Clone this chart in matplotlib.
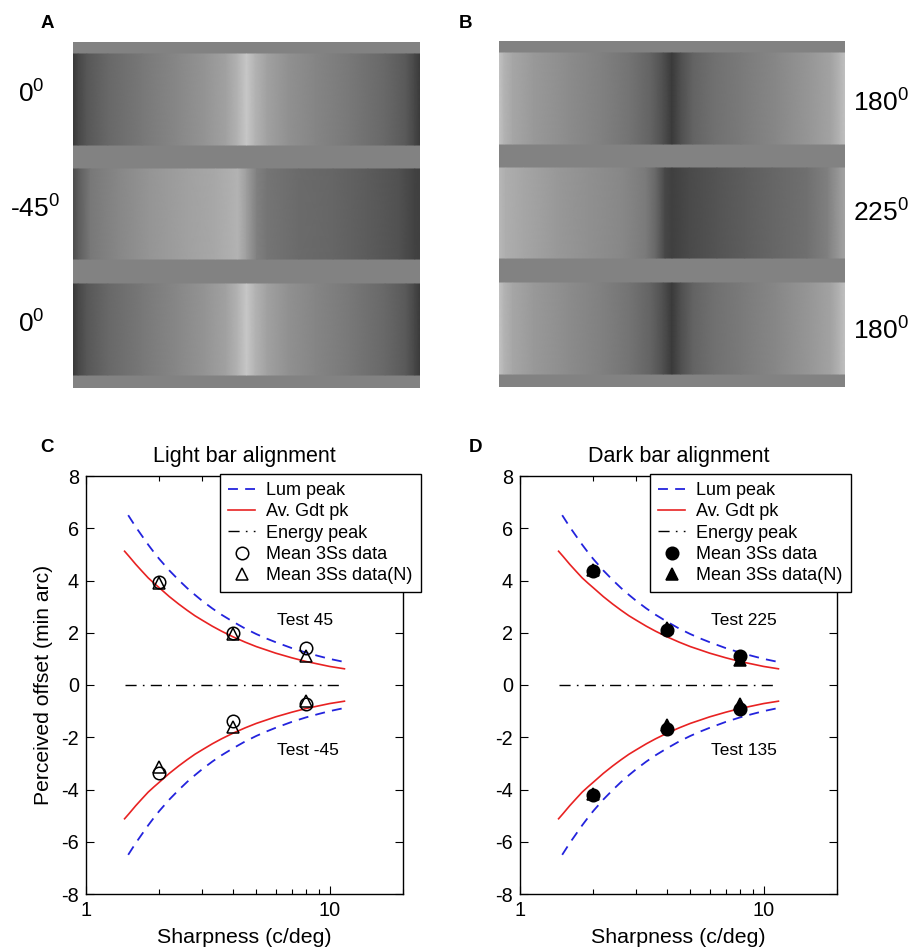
import numpy as np
import matplotlib
matplotlib.use("Agg")
import matplotlib.pyplot as plt
from matplotlib.ticker import NullFormatter, FixedLocator, FixedFormatter

plt.rcParams['font.family'] = ['Liberation Sans', 'DejaVu Sans']
plt.rcParams['mathtext.fontset'] = 'custom'
plt.rcParams['mathtext.rm'] = 'Liberation Sans'
plt.rcParams['mathtext.it'] = 'Liberation Sans:italic'
plt.rcParams['axes.unicode_minus'] = False

W, H = 916, 950

# ---- stimulus luminance profiles (fraction across width -> grey level) ----
pos_light0 = [0, 0.015, 0.04, 0.1, 0.2, 0.3, 0.38, 0.44, 0.475, 0.5, 0.525, 0.56, 0.62, 0.7, 0.8, 0.9, 0.96, 0.985, 1]
lum_light0 = [0.22, 0.28, 0.34, 0.41, 0.47, 0.53, 0.58, 0.63, 0.7, 0.78, 0.7, 0.63, 0.57, 0.52, 0.47, 0.41, 0.35, 0.28, 0.23]

pos_light45 = [0, 0.015, 0.05, 0.13, 0.22, 0.33, 0.41, 0.475, 0.5, 0.53, 0.56, 0.65, 0.75, 0.85, 0.94, 0.985, 1]
lum_light45 = [0.3, 0.36, 0.47, 0.53, 0.585, 0.63, 0.66, 0.7, 0.62, 0.5, 0.46, 0.42, 0.4, 0.36, 0.32, 0.26, 0.25]

pos_dark180 = [0, 0.015, 0.04, 0.1, 0.2, 0.3, 0.38, 0.44, 0.475, 0.5, 0.525, 0.56, 0.62, 0.7, 0.8, 0.9, 0.96, 0.985, 1]
lum_dark180 = [0.76, 0.7, 0.65, 0.6, 0.55, 0.5, 0.45, 0.39, 0.31, 0.23, 0.31, 0.39, 0.44, 0.48, 0.53, 0.59, 0.64, 0.7, 0.75]

pos_dark225 = [0, 0.02, 0.07, 0.165, 0.26, 0.36, 0.425, 0.455, 0.48, 0.5, 0.55, 0.63, 0.71, 0.79, 0.89, 0.95, 0.985, 1]
lum_dark225 = [0.72, 0.68, 0.65, 0.6, 0.565, 0.53, 0.48, 0.4, 0.28, 0.25, 0.29, 0.33, 0.365, 0.4, 0.44, 0.5, 0.6, 0.64]

band_grey = '#828282'
stripe_rows = [(12, 103), (127, 217), (242, 333)]   # in a 346-row frame

angles_a = ['0', '-45', '0']
angles_b = ['180', '225', '180']

# ---- model curves (upper branch; lower branch is the mirror) ----
lum_x = [1.49, 1.6, 1.7, 1.8, 1.9, 2, 2.2, 2.4, 2.6, 2.8, 3, 3.3, 3.6, 4, 4.5, 5, 5.5, 6, 7, 8, 9, 10, 11.5]
lum_y = [6.5, 6.05, 5.7, 5.37, 5.08, 4.82, 4.38, 4.02, 3.71, 3.45, 3.22, 2.93, 2.69, 2.43, 2.16, 1.95,
         1.78, 1.64, 1.41, 1.24, 1.11, 1.0, 0.88]
gdt_x = [1.44, 1.5, 1.6, 1.7, 1.8, 1.9, 2, 2.2, 2.4, 2.6, 2.8, 3, 3.3, 3.6, 4, 4.5, 5, 5.5, 6, 7, 8, 9, 10, 11.5]
gdt_y = [5.12, 4.93, 4.62, 4.35, 4.1, 3.9, 3.72, 3.38, 3.1, 2.86, 2.65, 2.48, 2.25, 2.06, 1.85, 1.64,
         1.47, 1.34, 1.22, 1.04, 0.9, 0.8, 0.71, 0.62]
energy_x = [1.44, 11.5]
energy_y = [0, 0]

# ---- mean data ----
sharp = [2, 4, 8]
light_up_circ = [3.94, 2.0, 1.4]
light_up_tri = [3.92, 1.97, 1.1]
light_lo_circ = [-3.38, -1.36, -0.72]
light_lo_tri = [-3.13, -1.62, -0.6]
dark_up_circ = [4.36, 2.11, 1.1]
dark_up_tri = [4.42, 2.2, 0.97]
dark_lo_circ = [-4.22, -1.68, -0.92]
dark_lo_tri = [-4.16, -1.55, -0.73]


def px_axes(x0, y0, x1, y1):
    return fig.add_axes([x0 / W, 1 - y1 / H, (x1 - x0) / W, (y1 - y0) / H])


def draw_stimulus(ax, profiles):
    ax.set_facecolor(band_grey)
    for (y0, y1), (pos, lum) in zip(stripe_rows, profiles):
        X, Y = np.meshgrid(pos, [y0, y1])
        C = np.tile(lum, (2, 1))
        ax.pcolormesh(X, Y, C, shading='gouraud', cmap='gray', vmin=0, vmax=1)
    ax.set_xlim(0, 1)
    ax.set_ylim(346, 0)
    ax.set_xticks([])
    ax.set_yticks([])
    for s in ax.spines.values():
        s.set_visible(False)


def draw_chart(ax, title, up_c, up_t, lo_c, lo_t, filled, lab_up, lab_lo, leg_x):
    blue, red = '#2323dd', '#e82222'
    ax.plot(lum_x, lum_y, color=blue, lw=1.3, dashes=(5.5, 4), label='Lum peak')
    ax.plot(gdt_x, gdt_y, color=red, lw=1.2, label='Av. Gdt pk')
    ax.plot(energy_x, energy_y, color='k', lw=1.0, dashes=(8, 4.5, 1.2, 4.5), label='Energy peak')
    ax.plot(lum_x, -np.array(lum_y), color=blue, lw=1.3, dashes=(5.5, 4))
    ax.plot(gdt_x, -np.array(gdt_y), color=red, lw=1.2)
    fc = 'k' if filled else 'none'
    mk = dict(ls='none', ms=9, mec='k', mfc=fc, mew=1.1)
    ax.plot(sharp, up_c, marker='o', label='Mean 3Ss data', **mk)
    ax.plot(sharp, lo_c, marker='o', **mk)
    ax.plot(sharp, up_t, marker='^', label='Mean 3Ss data(N)', **mk)
    ax.plot(sharp, lo_t, marker='^', **mk)

    ax.text(6.08, 2.45, lab_up, fontsize=12.5, va='center', ha='left')
    ax.text(6.08, -2.52, lab_lo, fontsize=12.5, va='center', ha='left')

    ax.set_xscale('log')
    ax.set_xlim(1, 20)
    ax.set_ylim(-8, 8)
    ax.xaxis.set_major_locator(FixedLocator([1, 10]))
    ax.xaxis.set_major_formatter(FixedFormatter(['1', '10']))
    ax.xaxis.set_minor_formatter(NullFormatter())
    ax.set_yticks(np.arange(-8, 9, 2))
    ax.tick_params(which='both', direction='in', top=True, right=True, labelsize=14.3, width=0.8, pad=5)
    ax.tick_params(which='major', length=6)
    ax.tick_params(which='minor', length=3.5)
    for s in ax.spines.values():
        s.set_linewidth(1.0)
    ax.set_title(title, fontsize=15.5, pad=10)
    ax.set_xlabel('Sharpness (c/deg)', fontsize=15.4, labelpad=6)

    leg = ax.legend(loc='upper left', bbox_to_anchor=(leg_x, 1.005), borderaxespad=0,
                    fontsize=13, handlelength=1.5, handletextpad=0.6, labelspacing=0.24,
                    borderpad=0.45, fancybox=False, framealpha=1, edgecolor='k')
    leg.get_frame().set_linewidth(1.0)
    return ax


fig = plt.figure(figsize=(W / 100, H / 100), dpi=100)

ax_a = px_axes(73, 42, 420, 388)
draw_stimulus(ax_a, [(pos_light0, lum_light0), (pos_light45, lum_light45), (pos_light0, lum_light0)])
ax_b = px_axes(499, 41, 845, 387)
draw_stimulus(ax_b, [(pos_dark180, lum_dark180), (pos_dark225, lum_dark225), (pos_dark180, lum_dark180)])

for lab, (x, y) in zip(angles_a, [(18, 103), (10, 218), (18, 333)]):
    fig.text(x / W, 1 - y / H, lab + r'$^{\mathrm{0}}$', fontsize=19, va='baseline', ha='left')
for lab, (x, y) in zip(angles_b, [(853, 112), (853, 222), (853, 340)]):
    fig.text(x / W, 1 - y / H, lab + r'$^{\mathrm{0}}$', fontsize=19, va='baseline', ha='left')

ax_c = px_axes(86, 476, 403, 894)
draw_chart(ax_c, 'Light bar alignment', light_up_circ, light_up_tri, light_lo_circ, light_lo_tri,
           False, 'Test 45', 'Test -45', 0.423)
ax_c.set_ylabel('Perceived offset (min arc)', fontsize=15.2, labelpad=6)

ax_d = px_axes(520, 476, 837, 894)
draw_chart(ax_d, 'Dark bar alignment', dark_up_circ, dark_up_tri, dark_lo_circ, dark_lo_tri,
           True, 'Test 225', 'Test 135', 0.41)

for lab, (x, y) in zip(['A', 'B', 'C', 'D'], [(47, 23), (465, 23), (47, 447), (476, 447)]):
    fig.text(x / W, 1 - y / H, lab, fontsize=13.5, fontweight='bold', ha='center', va='center')

fig.savefig('out.png', dpi=100)
